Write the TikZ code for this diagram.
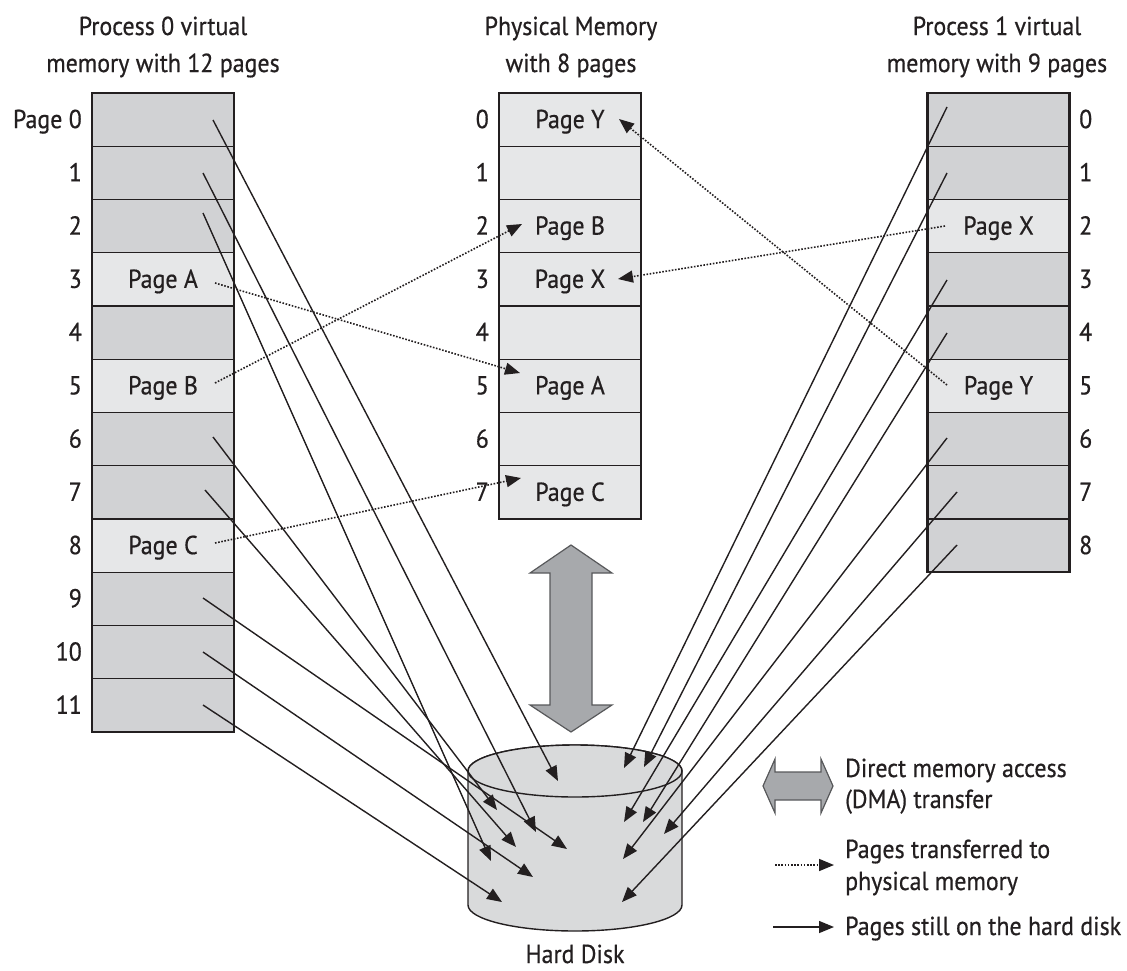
\documentclass[tikz,border=0pt]{standalone}
\usepackage{fontspec}
\setmainfont{PT Sans}[FakeStretch=0.92, RawFeature={embolden=0.6}]
\usetikzlibrary{arrows.meta,calc}
\definecolor{ink}{HTML}{231F20}
\definecolor{cellDark}{HTML}{D1D2D4}
\definecolor{cellLight}{HTML}{E6E7E8}
\definecolor{diskFill}{HTML}{D9DADB}
\definecolor{dmaFill}{HTML}{A7A9AC}
\definecolor{dmaEdge}{HTML}{58595B}

\begin{document}
\begin{tikzpicture}[x=1pt,y=-1pt,
  font=\fontsize{26}{30}\selectfont, text=ink,
  cell/.style={draw=ink, line width=1.3pt, minimum width=142pt, minimum height=53.25pt,
               inner sep=0pt, text height=18pt, text depth=1pt},
  dk/.style={cell, fill=cellDark},
  lt/.style={cell, fill=cellLight},
  rowlbl/.style={inner sep=0pt, text height=18pt, text depth=1pt},
  frame/.style={draw=ink, line width=2.4pt},
  title/.style={anchor=base, inner sep=0pt},
  legend/.style={anchor=base west, inner sep=0pt},
  ondisk/.style={draw=ink, line width=1.4pt, -{Triangle[length=15pt,width=12pt]}},
  tomem/.style={draw=ink, line width=1.6pt, dash pattern=on 1.6pt off 1.6pt,
                -{Triangle[length=15pt,width=12pt]}},
]
\useasboundingbox (0,0) rectangle (1127,970);

% ---------- titles ----------
\node[title] (t0a) at (163,35) {Process 0 virtual};
\node[title] (t0b) at (163,72) {memory with 12 pages};
\node[title] (tma) at (571,35) {Physical Memory};
\node[title] (tmb) at (571,72) {with 8 pages};
\node[title] (t1a) at (997,35) {Process 1 virtual};
\node[title] (t1b) at (997,72) {memory with 9 pages};

% ---------- process 0 virtual memory ----------
\foreach \i/\s/\t in {0/dk/{},1/dk/{},2/dk/{},3/lt/Page A,4/dk/{},5/lt/Page B,
                      6/dk/{},7/dk/{},8/lt/Page C,9/dk/{},10/dk/{},11/dk/{}} {
  \pgfmathsetmacro\yc{93+53.25*(\i+0.5)}
  \node[\s] (L\i) at (163,\yc) {\t};
}
\node[rowlbl, anchor=east] (Ln0) at (82,119.6) {Page 0};
\foreach \i in {1,...,11} {
  \pgfmathsetmacro\yc{93+53.25*(\i+0.5)}
  \node[rowlbl, anchor=east] (Ln\i) at (82,\yc) {\i};
}
\draw[frame] (92,93) rectangle (234,732);

% ---------- physical memory ----------
\foreach \i/\t in {0/Page Y,1/{},2/Page B,3/Page X,4/{},5/Page A,6/{},7/Page C} {
  \pgfmathsetmacro\yc{93+53.25*(\i+0.5)}
  \node[lt] (M\i) at (570,\yc) {\t};
  \node[rowlbl, anchor=east] (Mn\i) at (489,\yc) {\i};
}
\draw[frame] (499,93) rectangle (641,519);

% ---------- process 1 virtual memory ----------
\foreach \i/\s/\t in {0/dk/{},1/dk/{},2/lt/Page X,3/dk/{},4/dk/{},5/lt/Page Y,
                      6/dk/{},7/dk/{},8/dk/{}} {
  \pgfmathsetmacro\yc{93+53.25*(\i+0.5)}
  \node[\s] (R\i) at (998.5,\yc) {\t};
  \node[rowlbl, anchor=west] (Rn\i) at (1079,\yc) {\i};
}
\draw[frame] (927.5,93) rectangle (1069.5,572.25);

% ---------- hard disk ----------
\path[fill=diskFill, draw=ink, line width=1.4pt]
  (468,771) -- (468,905) arc[start angle=180, end angle=0, x radius=107, y radius=26]
  -- (682,771) arc[start angle=0, end angle=-180, x radius=107, y radius=26] -- cycle;
\draw[fill=diskFill, draw=ink, line width=1.4pt] (575,771) ellipse[x radius=107, y radius=26];
\node[title] (hd) at (575,963) {Hard Disk};

% ---------- DMA transfer arrow ----------
\draw[fill=dmaFill, draw=dmaEdge, line width=1.2pt]
  (571,545) -- (612,573) -- (592,573) -- (592,705) -- (612,705) -- (571,732)
  -- (530,705) -- (550,705) -- (550,573) -- (530,573) -- cycle;

% ---------- pages still on the hard disk (process 0) ----------
\coordinate (a0) at (213,120);  \coordinate (e0) at (558,781);
\coordinate (a1) at (203,173);  \coordinate (e1) at (536,832);
\coordinate (a2) at (203,213);  \coordinate (e2) at (491,861);
\coordinate (a6) at (213,437);  \coordinate (e6) at (497,810);
\coordinate (a7) at (205,490);  \coordinate (e7) at (516,847);
\coordinate (a9) at (203,598);  \coordinate (e9) at (567,849);
\coordinate (a10) at (203,652); \coordinate (e10) at (533,877);
\coordinate (a11) at (203,705); \coordinate (e11) at (502,902);
\foreach \k in {0,1,2,6,7,9,10,11} \draw[ondisk] (a\k) -- (e\k);

% ---------- pages still on the hard disk (process 1) ----------
\coordinate (b0) at (947,107); \coordinate (f0) at (624,768);
\coordinate (b1) at (947,173); \coordinate (f1) at (644,767);
\coordinate (b3) at (947,280); \coordinate (f3) at (624,822);
\coordinate (b4) at (947,333); \coordinate (f4) at (643,822);
\coordinate (b6) at (947,438); \coordinate (f6) at (623,859);
\coordinate (b7) at (957,492); \coordinate (f7) at (664,834);
\coordinate (b8) at (957,545); \coordinate (f8) at (622,902);
\foreach \k in {0,1,3,4,6,7,8} \draw[ondisk] (b\k) -- (f\k);

% ---------- pages transferred to physical memory ----------
\coordinate (pA) at (215,283); \coordinate (qA) at (520,373);
\coordinate (pB) at (215,383); \coordinate (qB) at (522,224);
\coordinate (pC) at (215,543); \coordinate (qC) at (521,478);
\coordinate (pX) at (945,226); \coordinate (qX) at (618,279);
\coordinate (pY) at (947,385); \coordinate (qY) at (619,119);
\foreach \k in {A,B,C,X,Y} \draw[tomem] (p\k) -- (q\k);

% ---------- legend ----------
\draw[fill=dmaFill, draw=dmaEdge, line width=1.2pt]
  (763,786) -- (775,759) -- (775,772) -- (821,772) -- (821,759) -- (833,786)
  -- (821,813) -- (821,800) -- (775,800) -- (775,813) -- cycle;
\node[legend] (lg1) at (845,777) {Direct memory access};
\node[legend] (lg2) at (845,808) {(DMA) transfer};
\coordinate (ld0) at (775,865); \coordinate (ld1) at (834,865);
\draw[tomem] (ld0) -- (ld1);
\node[legend] (lg3) at (845,858) {Pages transferred to};
\node[legend] (lg4) at (845,890) {physical memory};
\coordinate (ls0) at (773,927); \coordinate (ls1) at (834,927);
\draw[ondisk] (ls0) -- (ls1);
\node[legend] (lg5) at (845,935) {Pages still on the hard disk};
\end{tikzpicture}
\end{document}
